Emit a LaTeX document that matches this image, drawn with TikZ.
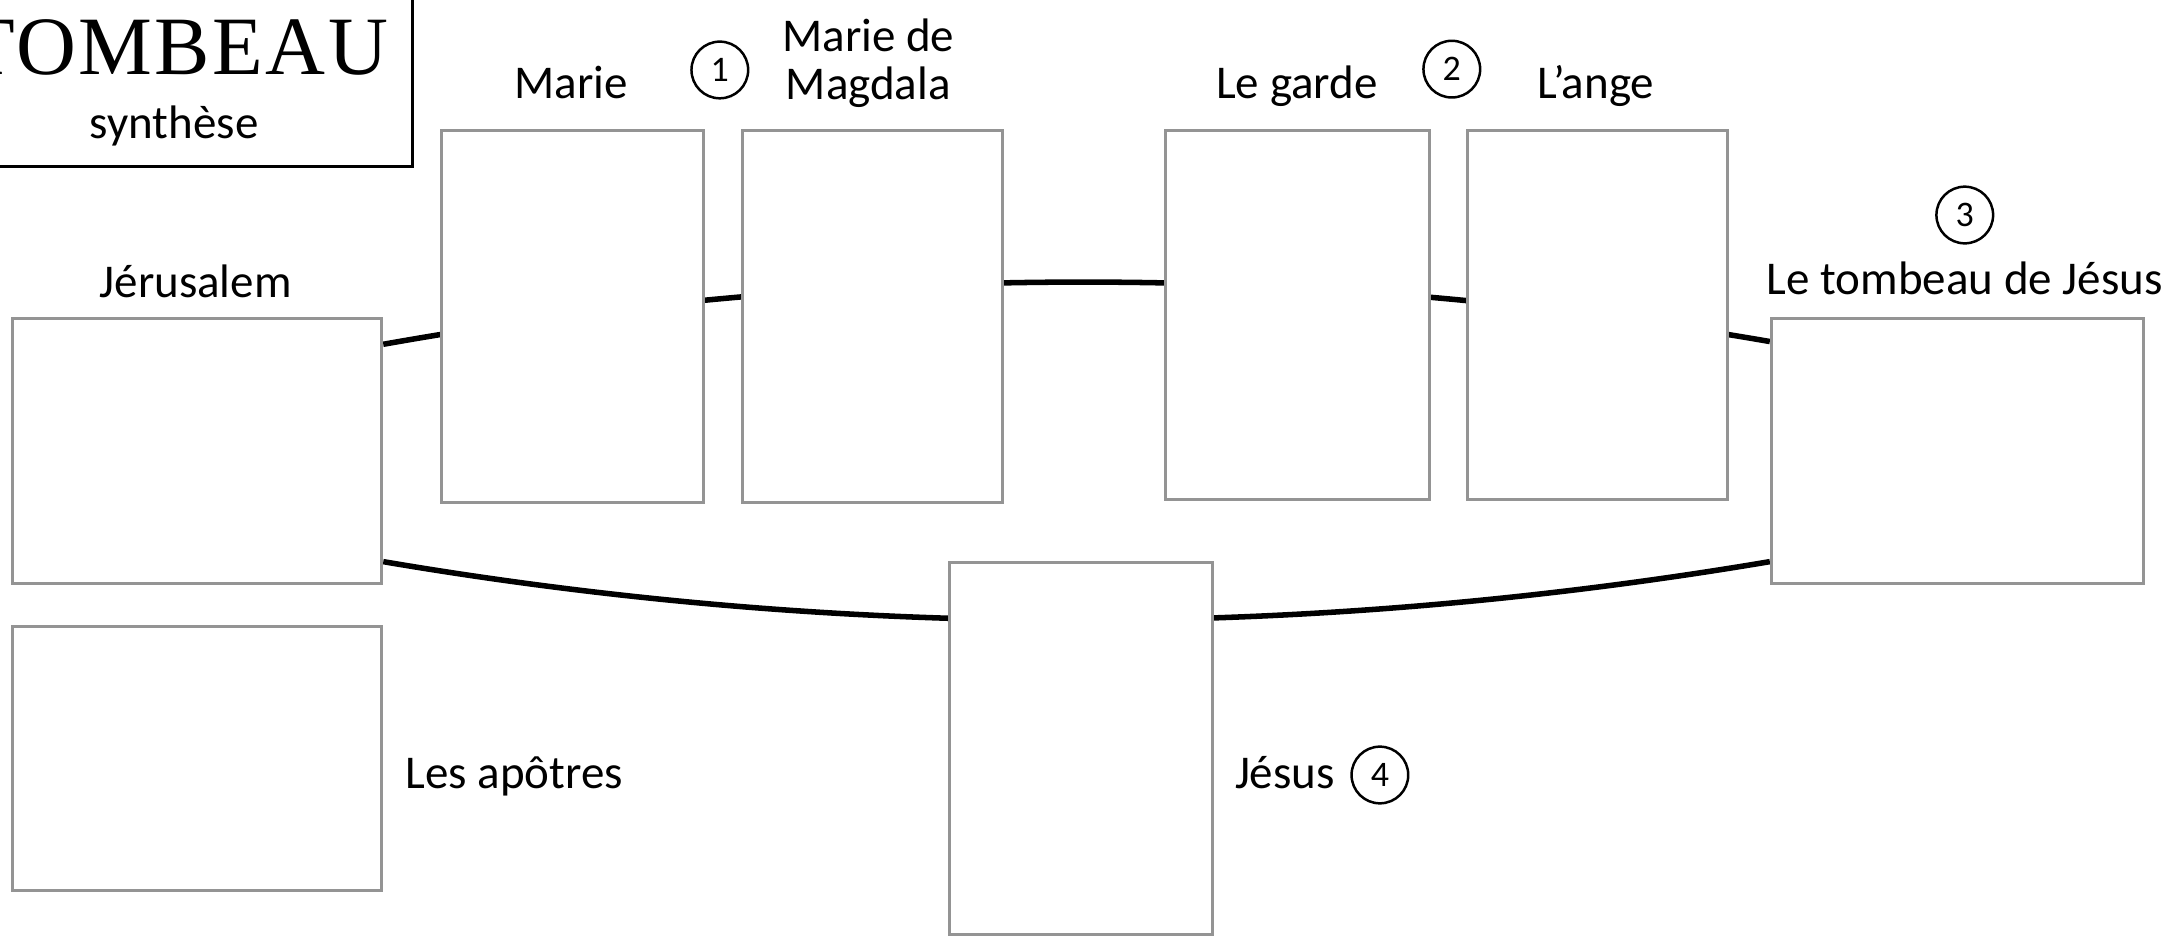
\documentclass[tikz,border=0pt]{standalone}
\usepackage{fontspec}
\setmainfont{Carlito}
\newfontfamily\titlefont{Liberation Serif}
\usetikzlibrary{backgrounds}
\definecolor{boxgray}{HTML}{949494}
\begin{document}
\begin{tikzpicture}[x=1pt,y=-1pt,
  box/.style={draw=boxgray,line width=2.2pt,fill=white,inner sep=0pt,anchor=north west},
  lbl/.style={font=\fontsize{34}{35}\selectfont,inner sep=0pt,anchor=base},
  num/.style={circle,draw=black,line width=1.8pt,minimum size=41pt,inner sep=0pt,font=\fontsize{26}{26}\selectfont},
  link/.style={line width=4pt,black}]
\useasboundingbox (0,0) rectangle (1568,678.4);
\clip (0,0) rectangle (1568,678.4);
% title
\node[draw=black,line width=2.4pt,inner sep=0pt,anchor=north west,minimum width=347pt,minimum height=130pt] (title) at (-50,-11) {};
\node[inner sep=0pt,anchor=base east,font=\titlefont\fontsize{60}{60}\selectfont\addfontfeature{LetterSpace=3}] (tomb-t) at (281,54) {TOMBEAU};
\node[lbl] (synth) at (126,100) {synthèse};
% boxes
\node[box,minimum width=267pt,minimum height=192pt] (jer) at (8,229) {};
\node[box,minimum width=267pt,minimum height=191pt] (apo) at (8,452) {};
\node[box,minimum width=190pt,minimum height=269pt] (marie) at (318,93) {};
\node[box,minimum width=188pt,minimum height=269pt] (mdm) at (536,93) {};
\node[box,minimum width=191pt,minimum height=267pt] (garde) at (842,93) {};
\node[box,minimum width=188pt,minimum height=267pt] (ange) at (1060,93) {};
\node[box,minimum width=269pt,minimum height=192pt] (tomb) at (1280,229) {};
\node[box,minimum width=190pt,minimum height=269pt] (jesus) at (685.5,406) {};
% labels
\node[lbl] (l-jer) at (141.5,215.5) {Jérusalem};
\node[lbl] (l-marie) at (413,71) {Marie};
\node[lbl,align=center,anchor=base] (l-mdm) at (628,72) {Marie de\\Magdala};
\node[lbl] (l-garde) at (938,71) {Le garde};
\node[lbl] (l-ange) at (1154,71) {L’ange};
\node[lbl] (l-tomb) at (1421,213) {Le tombeau de Jésus};
\node[lbl,anchor=base west] (l-apo) at (293,570) {Les apôtres};
\node[lbl,anchor=base west] (l-jesus) at (893,570) {Jésus};
% numbers
\node[num] (n1) at (520.6,50.6) {1};
\node[num] (n2) at (1050,50) {2};
\node[num] (n3) at (1421,155.5) {3};
\node[num] (n4) at (998,560.5) {4};
% connectors
\begin{pgfonlayer}{background}
\draw[link] ([yshift=-20pt]jer.north east) .. controls (610,189.7) and (945,189) .. ([yshift=-18pt]tomb.north west);
\draw[link] ([yshift=17pt]jer.south east) .. controls (610,462.7) and (945,462.7) .. ([yshift=17pt]tomb.south west);
\end{pgfonlayer}
\end{tikzpicture}
\end{document}
